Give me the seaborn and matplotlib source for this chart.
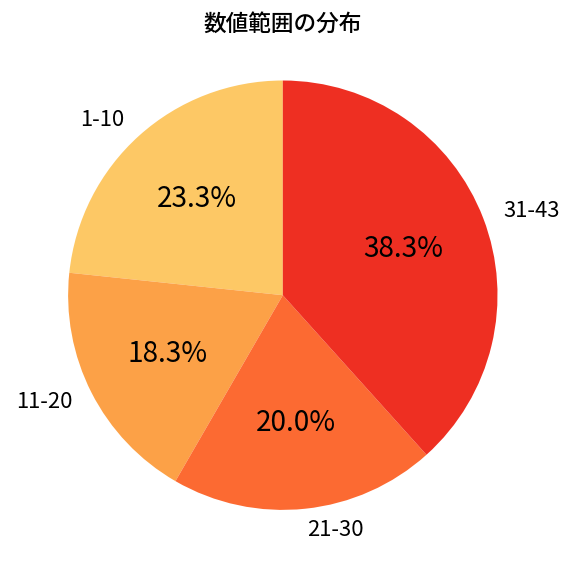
import matplotlib
matplotlib.use('Agg')
import matplotlib.pyplot as plt
import seaborn as sns

# data
ranges = ['1-10', '11-20', '21-30', '31-43']
counts = [14, 11, 12, 23]
colors = ['#FDC865', '#FCA147', '#FC6A32', '#EE2F22']

sns.set_theme(style='white')
plt.rcParams['font.family'] = ['Noto Sans CJK JP', 'DejaVu Sans']

fig, ax = plt.subplots(figsize=(6, 6), dpi=96)
wedges, texts, autotexts = ax.pie(
    counts, labels=ranges, colors=colors, autopct='%1.1f%%',
    startangle=90, counterclock=True,
    wedgeprops={'linewidth': 0},
    textprops={'fontsize': 16.5, 'color': 'black'},
    labeldistance=1.1, pctdistance=0.6, radius=1.0)
for t in autotexts:
    t.set_fontsize(21)
ax.set_title('数値範囲の分布', fontsize=17, fontweight='medium',
             color='black', pad=22)
ax.axis('equal')
fig.subplots_adjust(left=0.081, right=0.901, top=0.895, bottom=0.08)
fig.savefig('out.png', dpi=96)
